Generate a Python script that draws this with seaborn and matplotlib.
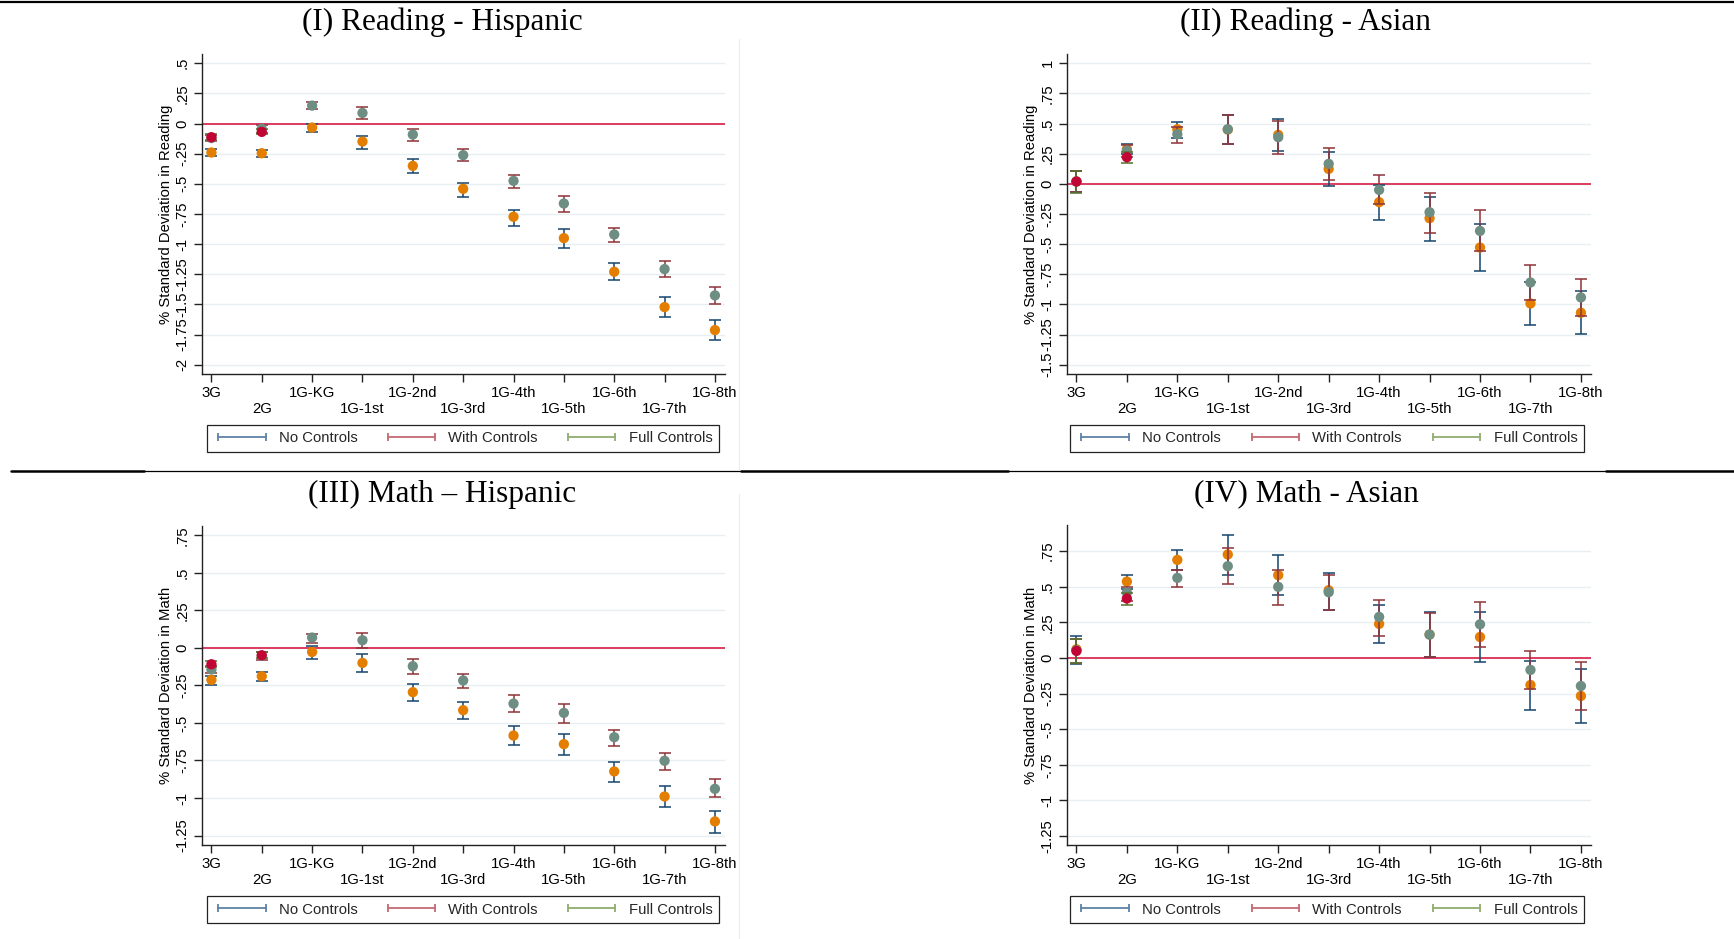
import numpy as np
import pandas as pd
import matplotlib
matplotlib.use("Agg")
import matplotlib.pyplot as plt
from matplotlib.lines import Line2D
import seaborn as sns

# ---------------- data ----------------
categories = ["3G", "2G", "1G-KG", "1G-1st", "1G-2nd", "1G-3rd",
              "1G-4th", "1G-5th", "1G-6th", "1G-7th", "1G-8th"]
series_names = ["No Controls", "With Controls", "Full Controls"]

# (I) Reading - Hispanic
rh_no_est = [-0.240, -0.246, -0.033, -0.149, -0.351, -0.541, -0.773, -0.950, -1.229, -1.522, -1.713]
rh_no_lo = [-0.270, -0.276, -0.072, -0.207, -0.409, -0.605, -0.848, -1.033, -1.301, -1.602, -1.796]
rh_no_hi = [-0.210, -0.218, -0.003, -0.100, -0.296, -0.494, -0.713, -0.876, -1.160, -1.442, -1.633]
rh_with_est = [-0.120, -0.044, 0.149, 0.088, -0.091, -0.262, -0.475, -0.663, -0.920, -1.207, -1.425]
rh_with_lo = [-0.145, -0.075, 0.119, 0.036, -0.146, -0.312, -0.536, -0.735, -0.986, -1.276, -1.500]
rh_with_hi = [-0.095, -0.015, 0.177, 0.135, -0.041, -0.215, -0.423, -0.597, -0.865, -1.141, -1.356]
rh_full_est = [-0.113, -0.069]
rh_full_lo = [-0.135, -0.090]
rh_full_hi = [-0.090, -0.048]

# (II) Reading - Asian
ra_no_est = [0.020, 0.287, 0.453, 0.450, 0.406, 0.124, -0.152, -0.285, -0.528, -0.992, -1.069]
ra_no_lo = [-0.070, 0.245, 0.378, 0.329, 0.273, -0.017, -0.296, -0.470, -0.724, -1.174, -1.249]
ra_no_hi = [0.105, 0.329, 0.517, 0.575, 0.539, 0.268, -0.010, -0.105, -0.331, -0.810, -0.889]
ra_with_est = [0.020, 0.276, 0.412, 0.453, 0.387, 0.166, -0.050, -0.235, -0.390, -0.818, -0.942]
ra_with_lo = [-0.070, 0.225, 0.343, 0.331, 0.249, 0.028, -0.165, -0.409, -0.560, -0.965, -1.100]
ra_with_hi = [0.105, 0.320, 0.470, 0.569, 0.522, 0.296, 0.075, -0.075, -0.218, -0.671, -0.785]
ra_full_est = [0.019, 0.221]
ra_full_lo = [-0.072, 0.174]
ra_full_hi = [0.108, 0.268]

# (III) Math - Hispanic
mh_no_est = [-0.213, -0.189, -0.027, -0.100, -0.295, -0.415, -0.584, -0.641, -0.823, -0.990, -1.156]
mh_no_lo = [-0.246, -0.220, -0.071, -0.160, -0.351, -0.475, -0.648, -0.712, -0.890, -1.063, -1.231]
mh_no_hi = [-0.186, -0.160, 0.013, -0.042, -0.240, -0.359, -0.519, -0.572, -0.759, -0.921, -1.085]
mh_with_est = [-0.144, -0.053, 0.069, 0.051, -0.122, -0.217, -0.371, -0.433, -0.595, -0.752, -0.939]
mh_with_lo = [-0.170, -0.080, 0.033, 0.002, -0.173, -0.266, -0.424, -0.497, -0.652, -0.814, -0.996]
mh_with_hi = [-0.118, -0.025, 0.095, 0.100, -0.075, -0.171, -0.315, -0.373, -0.544, -0.697, -0.876]
mh_full_est = [-0.109, -0.049]
mh_full_lo = [-0.130, -0.070]
mh_full_hi = [-0.090, -0.030]

# (IV) Math - Asian
ma_no_est = [0.061, 0.536, 0.688, 0.726, 0.581, 0.475, 0.239, 0.164, 0.147, -0.190, -0.267]
ma_no_lo = [-0.040, 0.487, 0.616, 0.583, 0.445, 0.339, 0.105, 0.005, -0.030, -0.365, -0.454]
ma_no_hi = [0.152, 0.585, 0.756, 0.861, 0.719, 0.599, 0.375, 0.325, 0.325, -0.020, -0.075]
ma_with_est = [0.054, 0.459, 0.562, 0.644, 0.499, 0.461, 0.288, 0.164, 0.236, -0.084, -0.197]
ma_with_lo = [-0.035, 0.400, 0.501, 0.517, 0.370, 0.339, 0.157, 0.007, 0.080, -0.220, -0.367]
ma_with_hi = [0.136, 0.500, 0.616, 0.770, 0.616, 0.585, 0.410, 0.318, 0.393, 0.051, -0.030]
ma_full_est = [0.049, 0.417]
ma_full_lo = [-0.037, 0.375]
ma_full_hi = [0.131, 0.459]

titles = ["(I) Reading - Hispanic", "(II) Reading - Asian",
          "(III) Math \u2013 Hispanic", "(IV) Math - Asian"]
ylabels = ["% Standard Deviation in Reading", "% Standard Deviation in Reading",
           "% Standard Deviation in Math", "% Standard Deviation in Math"]
yticks_rh = [-2, -1.75, -1.5, -1.25, -1, -0.75, -0.5, -0.25, 0, 0.25, 0.5]
yticks_ra = [-1.5, -1.25, -1, -0.75, -0.5, -0.25, 0, 0.25, 0.5, 0.75, 1]
yticks_m = [-1.25, -1, -0.75, -0.5, -0.25, 0, 0.25, 0.5, 0.75]


def build(no, wi, fu):
    rows = []
    for name, (est, lo, hi) in zip(series_names, (no, wi, fu)):
        for i in range(len(est)):
            rows.append(dict(pos=i, cat=categories[i], series=name,
                             est=est[i], lo=lo[i], hi=hi[i]))
    return pd.DataFrame(rows)


frames = [
    build((rh_no_est, rh_no_lo, rh_no_hi), (rh_with_est, rh_with_lo, rh_with_hi), (rh_full_est, rh_full_lo, rh_full_hi)),
    build((ra_no_est, ra_no_lo, ra_no_hi), (ra_with_est, ra_with_lo, ra_with_hi), (ra_full_est, ra_full_lo, ra_full_hi)),
    build((mh_no_est, mh_no_lo, mh_no_hi), (mh_with_est, mh_with_lo, mh_with_hi), (mh_full_est, mh_full_lo, mh_full_hi)),
    build((ma_no_est, ma_no_lo, ma_no_hi), (ma_with_est, ma_with_lo, ma_with_hi), (ma_full_est, ma_full_lo, ma_full_hi)),
]

# ---------------- style ----------------
sns.set_theme(style="ticks")
plt.rcParams['font.family'] = ['Liberation Sans', 'DejaVu Sans']

W, H = 1734, 939
fig = plt.figure(figsize=(W / 100, H / 100), dpi=100)
fig.patch.set_facecolor('white')

bar_colors = ['#1a476f', '#90353b', '#55752f']
marker_colors = ['#e37e00', '#6e8e84', '#c10534']
legend_colors = ['#5f82a8', '#c46a72', '#8fae70']

# pixel layouts: (left, top, right, bottom)
ax_px = [(202, 54, 725, 374), (1067, 54, 1591, 374),
         (202, 526, 725, 845), (1067, 525, 1591, 845)]
ylims = [(-2.077, 0.577), (-1.577, 1.077), (-1.313, 0.812), (-1.313, 0.933)]
ytick_sets = [yticks_rh, yticks_ra, yticks_m, yticks_m]
legend_px = [(207, 425, 719, 452), (1070, 425, 1584, 452),
             (207, 896, 719, 923), (1070, 896, 1584, 923)]
title_px = [(442, 22), (1306, 22), (442, 494), (1306, 494)]
FS = 10.7


def stata_fmt(v):
    v = round(v, 2) + 0.0
    s = f"{v:g}"
    return s.replace("0.", ".") if abs(v) < 1 else s


for p in range(4):
    l, t, r, b = ax_px[p]
    ax = fig.add_axes([l / W, 1 - b / H, (r - l) / W, (b - t) / H])
    df = frames[p]
    for k, name in enumerate(series_names):
        d = df[df.series == name]
        ax.errorbar(d.pos, d.est, yerr=[d.est - d.lo, d.hi - d.est], fmt='none',
                    ecolor=bar_colors[k], elinewidth=1.25, capsize=4, capthick=1.25,
                    alpha=0.9, zorder=3 + 2 * k)
        sns.scatterplot(data=d, x='pos', y='est', color=marker_colors[k], s=55,
                        edgecolor='none', linewidth=0, ax=ax, legend=False,
                        zorder=4 + 2 * k)
    ax.axhline(0, color='#dc3c5f', lw=1.4, zorder=2)
    ax.set_xlim(-0.187, 10.2)
    ax.set_ylim(*ylims[p])
    ax.set_yticks(ytick_sets[p])
    ax.set_yticklabels([stata_fmt(v) for v in ytick_sets[p]])
    ax.set_xticks(range(len(categories)))
    ax.set_xticklabels([c if i % 2 == 0 else "\n" + c for i, c in enumerate(categories)])
    for lbl in ax.get_xticklabels():
        lbl.set_linespacing(1.1)
    ax.yaxis.grid(True, color='#e8eff1', lw=1.0)
    ax.xaxis.grid(False)
    ax.set_axisbelow(True)
    ax.tick_params(axis='both', direction='out', length=6, width=1,
                   color='#222222', labelsize=FS, labelcolor='black', pad=3)
    ax.tick_params(axis='y', labelrotation=90)
    for lbl in ax.get_yticklabels():
        lbl.set_va('center')
    ax.set_xlabel('')
    ax.set_ylabel(ylabels[p], fontsize=FS, labelpad=2, color='black')
    sns.despine(ax=ax)
    for s in ('left', 'bottom'):
        ax.spines[s].set_color('#222222')
        ax.spines[s].set_linewidth(1.0)
    ax.set_facecolor('white')

    handles = [Line2D([0], [0], color=c, lw=1.3, marker='|', markersize=6,
                      markeredgewidth=1.3) for c in legend_colors]
    x0, y0, x1, y1 = legend_px[p]
    leg = ax.legend(handles, series_names, loc='center',
                    bbox_to_anchor=(x0 / W, 1 - y1 / H, (x1 - x0) / W, (y1 - y0) / H),
                    bbox_transform=fig.transFigure, mode='expand', ncol=3,
                    numpoints=2, handlelength=3.8, handletextpad=0.6,
                    borderpad=0.45, borderaxespad=0, frameon=True,
                    fancybox=False, fontsize=FS, framealpha=1)
    leg.get_frame().set_edgecolor('#222222')
    leg.get_frame().set_linewidth(0.9)

    tx, ty = title_px[p]
    fig.text(tx / W, 1 - ty / H, titles[p], ha='center', va='center',
             family=['Liberation Serif', 'DejaVu Serif'], fontsize=22.5, color='black')

# table borders
def hline(x0, x1, y, lw, color='black'):
    fig.add_artist(Line2D([x0 / W, x1 / W], [1 - y / H, 1 - y / H],
                          transform=fig.transFigure, color=color, lw=lw))

def vline(x, y0, y1, lw, color):
    fig.add_artist(Line2D([x / W, x / W], [1 - y0 / H, 1 - y1 / H],
                          transform=fig.transFigure, color=color, lw=lw))

hline(0, W, 2, 1.6)
hline(11, 144, 471, 1.8)
hline(144, 741, 471, 0.9)
hline(741, 1008, 471, 1.8)
hline(1008, 1606, 471, 0.9)
hline(1606, W, 471, 1.8)
vline(739, 39, 470, 0.8, '#ececec')
vline(739, 494, H, 0.8, '#ececec')

fig.savefig("out.png", dpi=100, facecolor='white')
